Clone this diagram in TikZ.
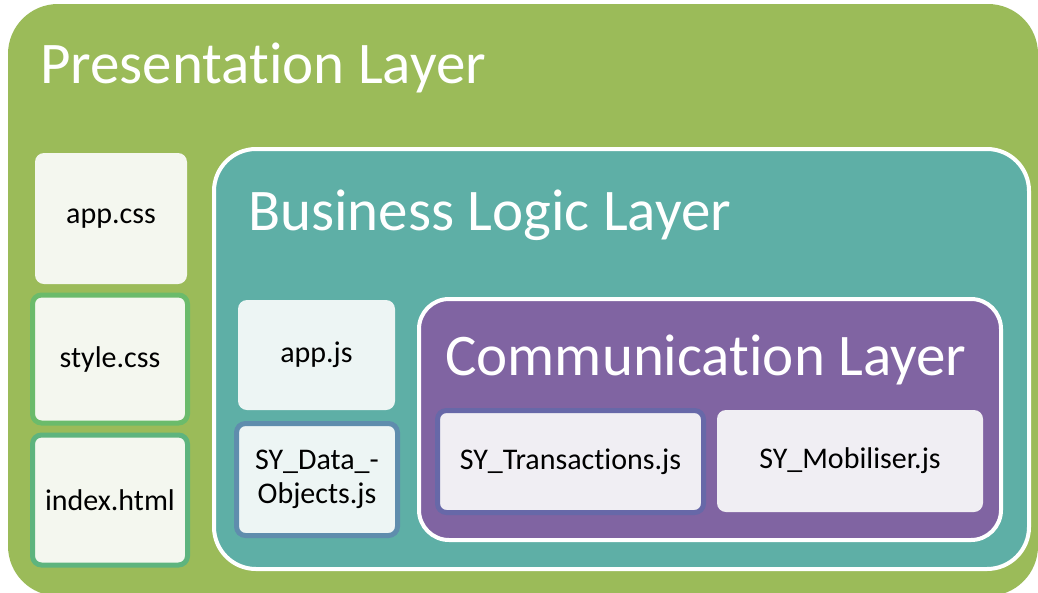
\documentclass[tikz,border=0pt]{standalone}
\usepackage{fontspec}
\setmainfont[Ligatures=NoCommon]{Carlito}
\usetikzlibrary{positioning}
\definecolor{presgreen}{HTML}{9BBB59}
\definecolor{bizteal}{HTML}{5EAFA6}
\definecolor{compurple}{HTML}{8064A2}
\definecolor{pfile}{HTML}{F4F7EF}
\definecolor{bfile}{HTML}{EDF5F4}
\definecolor{cfile}{HTML}{F0EEF3}
\definecolor{styleedge}{HTML}{6BBB6B}
\definecolor{indexedge}{HTML}{5EB47E}
\definecolor{dataedge}{HTML}{5F8DAD}
\definecolor{transedge}{HTML}{6768A8}
\tikzset{
 layer/.style={draw=white, line width=4pt, rounded corners=42pt, inner sep=0pt},
 layertitle/.style={text=white, anchor=base west, inner sep=0pt, font=\fontsize{59}{64}\selectfont},
 file/.style={rounded corners=9pt, inner sep=0pt, align=center, font=\fontsize{30}{34}\selectfont}
}
\begin{document}
\begin{tikzpicture}[x=1pt,y=-1pt]
 \useasboundingbox (0,0) rectangle (1038,592);
 \clip (0,0) rectangle (1038,592);
 \fill[white] (0,0) rectangle (1038,592);
%
 \node[fill=presgreen, rounded corners=50pt, minimum width=1030pt, minimum height=592pt, inner sep=0pt] (pres) at (523,300) {};
 \node[layertitle] (prestitle) at (40,83) {Presentation Layer};
%
 \node[file, fill=pfile, minimum width=152pt, minimum height=131pt] (appcss) at (111,218.5) {app.css};
 \node[file, fill=pfile, draw=styleedge, line width=5pt, minimum width=155pt, minimum height=128pt] (stylecss) at (110,359) {style.css};
 \node[file, fill=pfile, draw=indexedge, line width=5pt, minimum width=155pt, minimum height=130pt] (indexhtml) at (110,500) {index.html};
%
 \node[layer, fill=bizteal, minimum width=815pt, minimum height=420pt] (biz) at (621.5,359) {};
 \node[layertitle] (biztitle) at (248,230) {Business Logic Layer};
%
 \node[file, fill=bfile, minimum width=157pt, minimum height=110pt] (appjs) at (316.5,355) {app.js};
 \node[file, fill=bfile, draw=dataedge, line width=5pt, minimum width=161pt, minimum height=112pt] (dataobj) at (317,479.5) {SY\_Data\_-\\Objects.js};
%
 \node[layer, fill=compurple, rounded corners=30pt, minimum width=582pt, minimum height=241pt] (comm) at (710,419.5) {};
 \node[layertitle] (commtitle) at (445,375) {Communication Layer};
%
 \node[file, fill=cfile, draw=transedge, line width=5pt, minimum width=266pt, minimum height=102pt] (trans) at (570.5,461.5) {SY\_Transactions.js};
 \node[file, fill=cfile, minimum width=266pt, minimum height=102pt] (mobil) at (850,461) {SY\_Mobiliser.js};
\end{tikzpicture}
\end{document}
